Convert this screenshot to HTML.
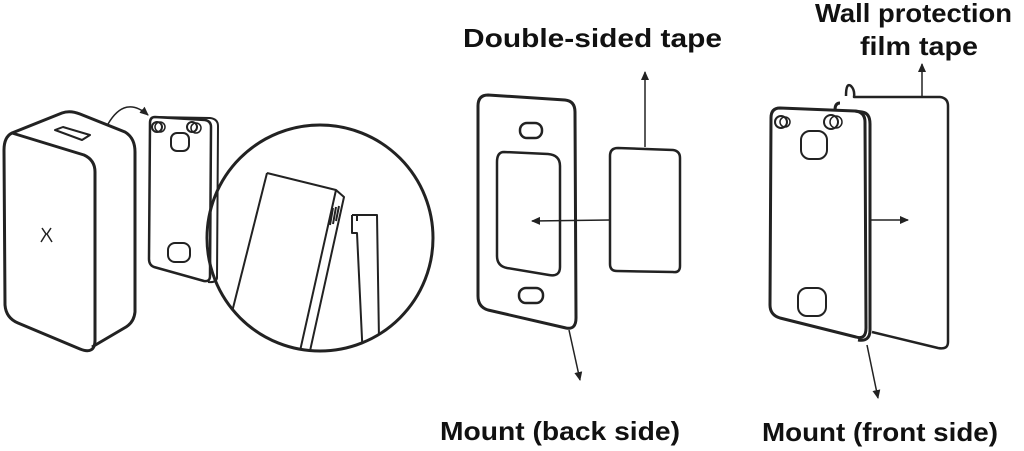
<!DOCTYPE html>
<html><head><style>
html,body{margin:0;padding:0;background:#fff;}
svg{display:block}
text{font-family:"Liberation Sans",sans-serif;font-weight:bold;fill:#111;}
</style></head><body>
<svg width="1024" height="451" viewBox="0 0 1024 451" xmlns="http://www.w3.org/2000/svg">
<defs>
<marker id="a" markerWidth="10" markerHeight="10" refX="8" refY="5" orient="auto" markerUnits="userSpaceOnUse"><path d="M0,1 L9,5 L0,9 Z" fill="#222"/></marker>
<clipPath id="c"><circle cx="320" cy="238" r="113"/></clipPath>
</defs>
<g fill="none" stroke="#222" stroke-width="3" stroke-linejoin="round">
<!-- charger -->
<path d="M12,133 L62,113 Q70,110 80,114 L125,132 Q135,138 135,152 L135,312 Q134,322 126,327 L92,347"/>
<path d="M12,133 Q4,137 4,150 L5,305 Q6,318 18,323 L80,349 Q95,355 95,340 L95,172 Q95,160 84,155 Z"/>
<path d="M55,130 L63,127 L90,135 L82,140 Z" stroke-width="2"/>
<path d="M42,228 L46,234 L41,242 M51,228 L47,234 L52,242" stroke-width="1.5"/>
<path d="M108,124 Q125,95 148,115" stroke-width="1.5" marker-end="url(#a)"/>
<!-- mount 1 -->
<path d="M153,117 L210,118 Q218,119 218,126 L217,278 Q216,283 208,282" stroke-width="2"/>
<path d="M155,117 L205,120 Q211,121 211,127 L210,276 Q210,282 204,281 L154,267 Q149,265 149,259 L150,123 Q150,117 155,117 Z" stroke-width="2.5"/>
<circle cx="157" cy="127" r="5" stroke-width="2"/><circle cx="160" cy="127" r="5" stroke-width="1.5"/>
<circle cx="192" cy="127" r="5" stroke-width="2"/><circle cx="196" cy="128" r="5" stroke-width="1.5"/>
<rect x="171" y="133" width="18" height="18" rx="6" stroke-width="2"/>
<rect x="168" y="243" width="22" height="19" rx="7" stroke-width="2"/>
<!-- zoom circle -->
<circle cx="320" cy="238" r="113" stroke-width="3"/>
<g clip-path="url(#c)" stroke-width="2">
<path d="M267,173 L336,190 L344,197 L308,360"/>
<path d="M267,173 L230,320"/>
<path d="M336,190 L298,360"/>
<path d="M333,208 L330,225 M336,207 L333,224 M339,206 L336,221"/>
<path d="M352,215 L352,233 L357,233 L363,360 M357,215 L377,215 L379,340 M352,215 L357,215 L357,221"/>
</g>
<!-- middle mount -->
<path d="M488,95 L565,100 Q575,101 575,112 L576,318 Q576,330 566,328 L488,310 Q478,307 478,296 L478,106 Q478,95 488,95 Z"/>
<path d="M504,152 L548,154 Q560,155 560,166 L560,267 Q560,277 549,275 L507,268 Q497,266 497,256 L497,162 Q497,152 504,152 Z" stroke-width="2.5"/>
<rect x="520" y="123" width="22" height="15" rx="7" stroke-width="2.5"/>
<rect x="519" y="288" width="24" height="15" rx="7" stroke-width="2.5"/>
<path d="M618,148 L673,150 Q680,151 680,158 L680,266 Q680,273 673,272 L617,271 Q610,271 610,264 L610,156 Q610,148 618,148 Z" stroke-width="2.5"/>
<path d="M645,147 L645,72" stroke-width="1.5" marker-end="url(#a)"/>
<path d="M610,220 L532,221" stroke-width="1.5" marker-end="url(#a)"/>
<path d="M569,330 L580,380" stroke-width="1.5" marker-end="url(#a)"/>
<!-- right -->
<path d="M846,96 Q846,82 851,86 Q855,90 854,97 L940,97 Q948,98 948,106 L948,342 Q948,350 938,348 L872,332" stroke-width="2.5"/>
<path d="M840,103 Q835,103 835,110"/>
<path d="M780,108 L855,111 Q865,112 865,122 L866,328 Q866,340 856,337 L780,318 Q770,315 770,305 L771,118 Q771,108 780,108 Z"/>
<path d="M855,111 L862,112 Q870,113 870,124 L870,330 Q870,342 858,340"/>
<circle cx="781" cy="122" r="6" stroke-width="2"/><circle cx="785" cy="122" r="5" stroke-width="1.5"/>
<circle cx="831" cy="122" r="7" stroke-width="2"/><circle cx="836" cy="122" r="6" stroke-width="1.5"/>
<rect x="801" y="131" width="26" height="28" rx="9" stroke-width="2"/>
<rect x="798" y="288" width="28" height="28" rx="9" stroke-width="2"/>
<path d="M922,96 L922,64" stroke-width="1.5" marker-end="url(#a)"/>
<path d="M870,220 L908,220" stroke-width="1.5" marker-end="url(#a)"/>
<path d="M867,345 L878,398" stroke-width="1.5" marker-end="url(#a)"/>
</g>
<text x="463" y="47" font-size="26" textLength="259" lengthAdjust="spacingAndGlyphs">Double-sided tape</text>
<text x="815" y="22" font-size="26" textLength="197" lengthAdjust="spacingAndGlyphs">Wall protection</text>
<text x="860" y="55" font-size="26" textLength="118" lengthAdjust="spacingAndGlyphs">film tape</text>
<text x="440" y="440" font-size="26" textLength="240" lengthAdjust="spacingAndGlyphs">Mount (back side)</text>
<text x="762" y="441" font-size="26" textLength="236" lengthAdjust="spacingAndGlyphs">Mount (front side)</text>
</svg>
</body></html>
